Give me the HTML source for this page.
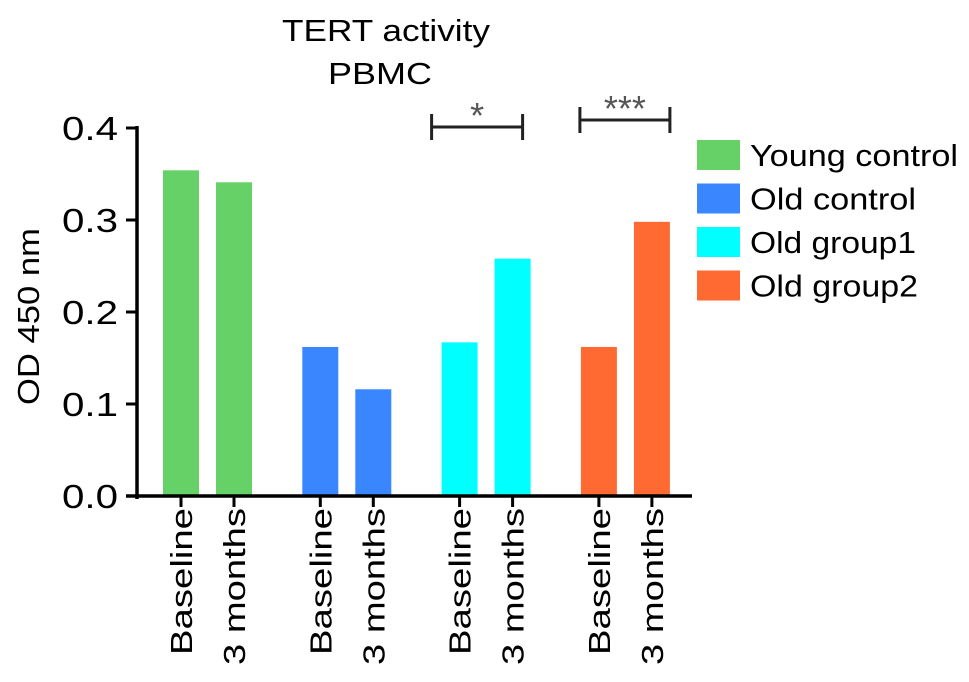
<!DOCTYPE html>
<html><head><meta charset="utf-8"><style>
html,body{margin:0;padding:0;background:#fff}
svg text{font-family:"Liberation Sans",Arial,sans-serif;fill:#000}
</style></head><body>
<svg id="chart" width="969" height="677" viewBox="0 0 969 677" xmlns="http://www.w3.org/2000/svg">
<g>
<text x="282" y="41" font-size="31" textLength="208" lengthAdjust="spacingAndGlyphs">TERT activity</text>
<text x="328" y="84" font-size="31" textLength="104" lengthAdjust="spacingAndGlyphs">PBMC</text>
</g>
<text transform="translate(39,405) rotate(-90)" font-size="31" textLength="177" lengthAdjust="spacingAndGlyphs">OD 450 nm</text>
<g id="yaxis"></g>
<g id="bars"></g>
<g id="xaxis"></g>
<g id="sig"></g>
<g id="legend"></g>
</svg>
<script>
const groups = ["Young control","Old control","Old group1","Old group2"];
const timepoints = ["Baseline","3 months"];
const baselineValues = [0.354, 0.162, 0.167, 0.162];
const threeMonthValues = [0.341, 0.116, 0.258, 0.298];
const yTicks = [0.0, 0.1, 0.2, 0.3, 0.4];
const yTickLabels = ["0.0","0.1","0.2","0.3","0.4"];
const sigLabels = ["", "", "*", "***"];
const colors = ["#66d166","#3a86ff","#00ffff","#ff6a33"];

const NS="http://www.w3.org/2000/svg";
const y0=496, yTop=128, yMax=0.4;
const yScale=v=>y0-(v/yMax)*(y0-yTop);
const groupX=g=>163+g*139.3;
const barX=(g,t)=>groupX(g)+t*53;
const barW=36;
const legendW=[208,166,166,168];
const xLabW=[147,157];
const brL=[0,0,-10,-1], brR=[0,0,-8,0], brY=[0,0,127,120];
function mk(tag,attrs,parent){const e=document.createElementNS(NS,tag);for(const k in attrs)e.setAttribute(k,attrs[k]);parent.appendChild(e);return e;}

const ya=document.getElementById('yaxis');
let l=mk('line',{x1:137,y1:y0+3,x2:137,y2:yTop-2,stroke:'#000','stroke-width':3.5},ya);


yTicks.forEach((v,i)=>{
  const t=mk('line',{x1:126,y1:yScale(v),x2:137,y2:yScale(v),stroke:'#000','stroke-width':3},ya);
  
  
  const tx=mk('text',{x:62,y:yScale(v)+12,'font-size':33,textLength:56,lengthAdjust:'spacingAndGlyphs'},ya);
  tx.textContent=yTickLabels[i];
  
  
});

const bg=document.getElementById('bars');
const series=[baselineValues,threeMonthValues];
groups.forEach((g,gi)=>{
  series.forEach((s,ti)=>{
    const r=mk('rect',{x:barX(gi,ti),y:yScale(s[gi]),width:barW,height:y0-yScale(s[gi]),fill:colors[gi]},bg);
    
    
  });
});

const xa=document.getElementById('xaxis');
l=mk('line',{x1:126,y1:y0,x2:692,y2:y0,stroke:'#000','stroke-width':3.5},xa);


groups.forEach((g,gi)=>{
  timepoints.forEach((tp,ti)=>{
    const cx=barX(gi,ti)+barW/2;
    const t=mk('line',{x1:cx,y1:y0,x2:cx,y2:y0+11,stroke:'#000','stroke-width':3},xa);
    
    
    const tx=mk('text',{transform:`translate(${cx+11},${y0+12+xLabW[ti]}) rotate(-90)`,'font-size':31,textLength:xLabW[ti],lengthAdjust:'spacingAndGlyphs'},xa);
    tx.textContent=tp;
    
    
  });
});

const sg=document.getElementById('sig');
sigLabels.forEach((s,gi)=>{
  if(!s)return;
  const xa1=barX(gi,0)+brL[gi], xa2=barX(gi,1)+barW+brR[gi];
  const yb=brY[gi];
  const p=mk('path',{d:`M${xa1},${yb-13}V${yb+13}M${xa1},${yb}H${xa2}M${xa2},${yb-13}V${yb+13}`,stroke:'#222','stroke-width':3,fill:'none'},sg);
  
  
  const tx=mk('text',{x:(xa1+xa2)/2,y:yb+1,'font-size':36,'text-anchor':'middle'},sg);
  tx.style.fill='#555';
  tx.textContent=s;
  
  
});

const lg=document.getElementById('legend');
groups.forEach((g,gi)=>{
  const yy=140+gi*43.5;
  const r=mk('rect',{x:697,y:yy,width:43,height:30,fill:colors[gi]},lg);
  
  
  const tx=mk('text',{x:750,y:yy+26,'font-size':31,textLength:legendW[gi],lengthAdjust:'spacingAndGlyphs'},lg);
  tx.textContent=g;
  
  
});
</script>
</body></html>
